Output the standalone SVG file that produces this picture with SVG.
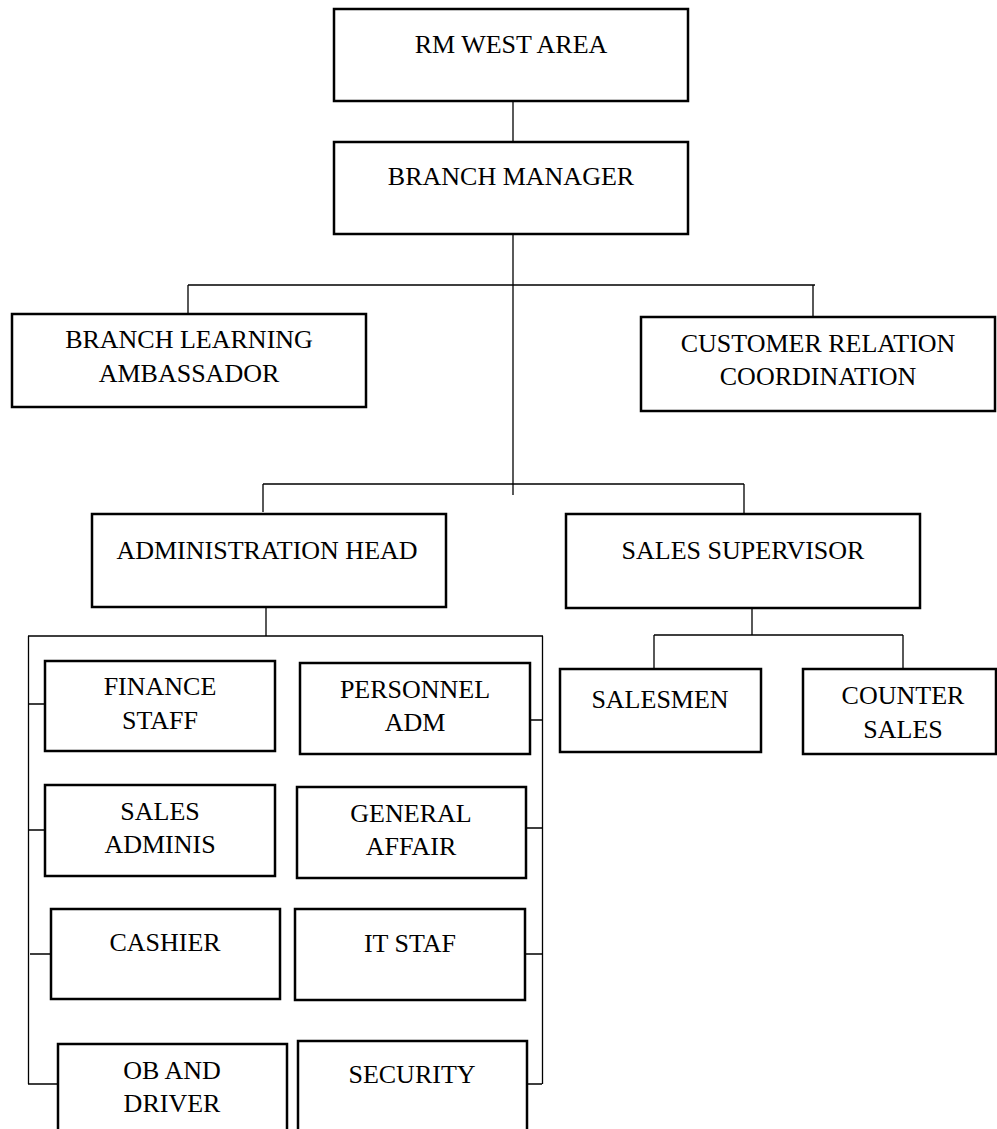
<svg xmlns="http://www.w3.org/2000/svg" width="997" height="1129" viewBox="0 0 997 1129">
<style>
.box{fill:#fff;stroke:#000;stroke-width:2.5}
.t{font-family:"Liberation Serif","Times New Roman",serif;font-size:26px;fill:#000;text-anchor:middle}
.c{stroke:#000;stroke-width:1.3;fill:none}
</style>
<rect width="997" height="1129" fill="#fff"/>
<g id="connectors">
<path class="c" d="M513 99V142"/>
<path class="c" d="M513 234V495"/>
<path class="c" d="M188 285H815M188 285V314M813 285V317"/>
<path class="c" d="M263 484H744M263 484V512M744 484V514"/>
<path class="c" d="M752 606V635M654 635H903M654 635V669M903 635V669"/>
<path class="c" d="M266 607V636M28 636H543M28.5 636V1084M542.5 636V1084"/>
<path class="c" d="M28 704H45M28 830H45M30 954H51M28 1084H58"/>
<path class="c" d="M511 720H542M526 828H542M525 954H542M527 1084H542"/>
</g>
<g id="rm-west-area"><rect class="box" x="334" y="9" width="354" height="92"/><text class="t" x="511" y="53">RM WEST AREA</text></g>
<g id="branch-manager"><rect class="box" x="334" y="142" width="354" height="92"/><text class="t" x="511" y="185">BRANCH MANAGER</text></g>
<g id="branch-learning"><rect class="box" x="12" y="314" width="354" height="93"/><text class="t" x="189" y="348">BRANCH LEARNING</text><text class="t" x="189" y="382">AMBASSADOR</text></g>
<g id="customer-relation"><rect class="box" x="641" y="317" width="354" height="94"/><text class="t" x="818" y="352">CUSTOMER RELATION</text><text class="t" x="818" y="385">COORDINATION</text></g>
<g id="administration-head"><rect class="box" x="92" y="514" width="354" height="93"/><text class="t" x="267" y="559">ADMINISTRATION HEAD</text></g>
<g id="sales-supervisor"><rect class="box" x="566" y="514" width="354" height="94"/><text class="t" x="743" y="559">SALES SUPERVISOR</text></g>
<g id="salesmen"><rect class="box" x="560" y="669" width="201" height="83"/><text class="t" x="660" y="708">SALESMEN</text></g>
<g id="counter-sales"><rect class="box" x="803" y="669" width="193" height="85"/><text class="t" x="903" y="704">COUNTER</text><text class="t" x="903" y="738">SALES</text></g>
<g id="finance-staff"><rect class="box" x="45" y="661" width="230" height="90"/><text class="t" x="160" y="695">FINANCE</text><text class="t" x="160" y="729">STAFF</text></g>
<g id="personnel-adm"><rect class="box" x="300" y="663" width="230" height="91"/><text class="t" x="415" y="698">PERSONNEL</text><text class="t" x="415" y="731">ADM</text></g>
<g id="sales-adminis"><rect class="box" x="45" y="785" width="230" height="91"/><text class="t" x="160" y="820">SALES</text><text class="t" x="160" y="853">ADMINIS</text></g>
<g id="general-affair"><rect class="box" x="297" y="787" width="229" height="91"/><text class="t" x="411" y="822">GENERAL</text><text class="t" x="411" y="855">AFFAIR</text></g>
<g id="cashier"><rect class="box" x="51" y="909" width="229" height="90"/><text class="t" x="165" y="951">CASHIER</text></g>
<g id="it-staf"><rect class="box" x="295" y="909" width="230" height="91"/><text class="t" x="410" y="952">IT STAF</text></g>
<g id="ob-and-driver"><rect class="box" x="58" y="1044" width="229" height="100"/><text class="t" x="172" y="1079">OB AND</text><text class="t" x="172" y="1112">DRIVER</text></g>
<g id="security"><rect class="box" x="298" y="1041" width="229" height="100"/><text class="t" x="412" y="1083">SECURITY</text></g>
</svg>
